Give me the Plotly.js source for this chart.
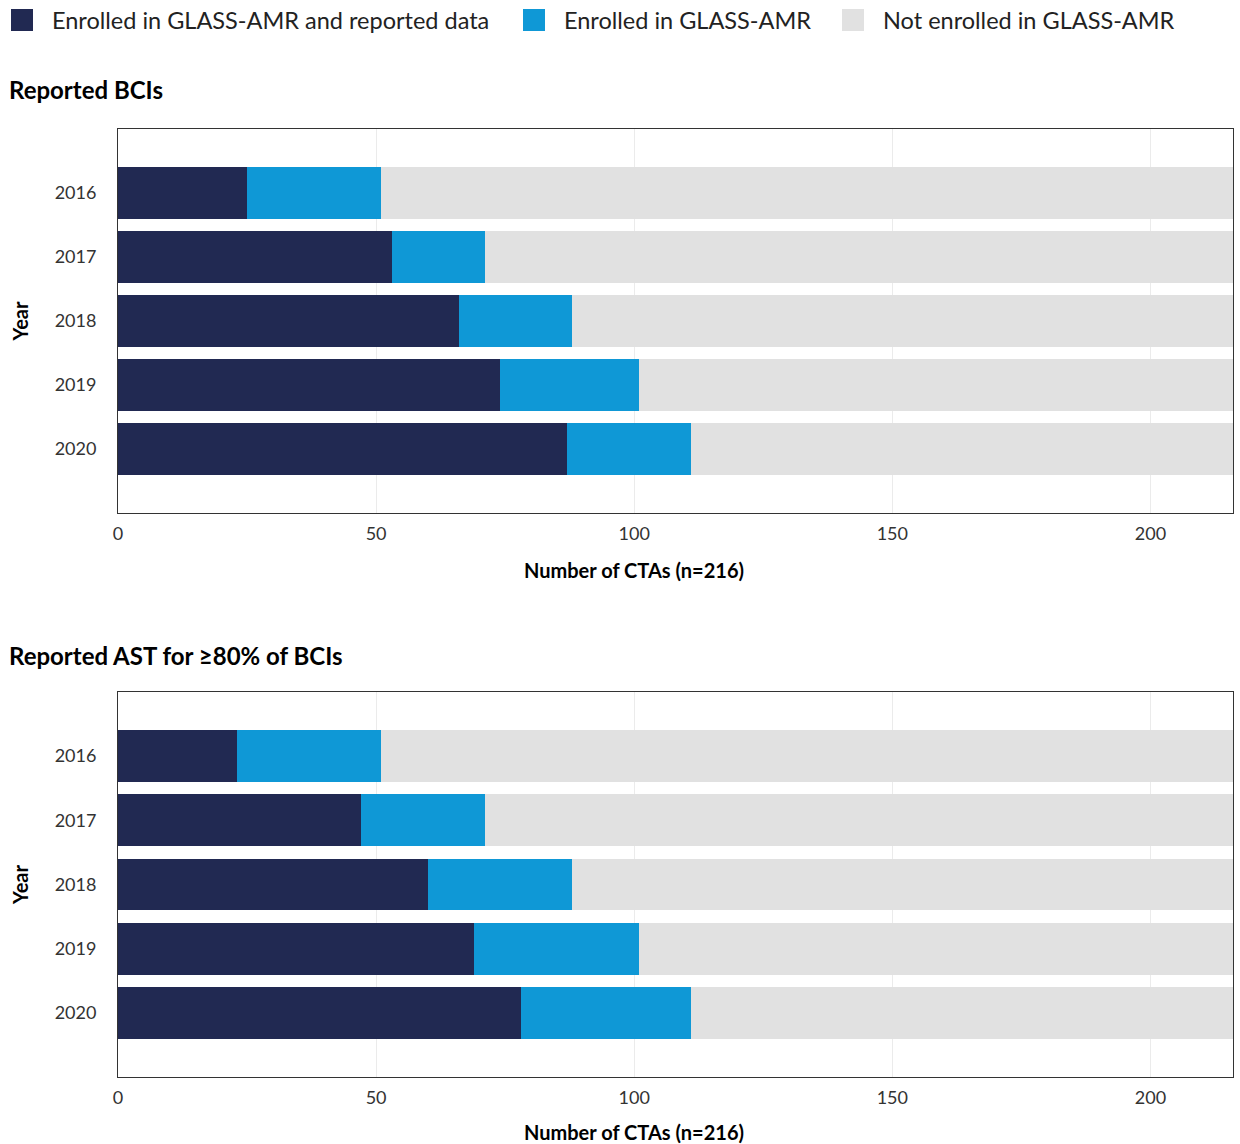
<!DOCTYPE html>
<html>
<head>
<meta charset="utf-8">
<script src="https://cdn.plot.ly/plotly-3.0.1.min.js"></script>
<style>html,body{margin:0;padding:0;background:#fff;}#chart{width:1240px;height:1144px;}</style>
</head>
<body>
<div id="chart"></div>
<script>
const years = ['2016', '2017', '2018', '2019', '2020'];
const seriesNames = ['Enrolled in GLASS-AMR and reported data', 'Enrolled in GLASS-AMR', 'Not enrolled in GLASS-AMR'];
const panelTitles = ['Reported BCIs', 'Reported AST for ≥80% of BCIs'];
const xTitle = 'Number of CTAs (n=216)';
const yTitle = 'Year';
const totalCTAs = 216;
// Panel 1: Reported BCIs
const bciReported = [25, 53, 66, 74, 87];
const bciEnrolled = [26, 18, 22, 27, 24];
const bciNotEnrolled = [165, 145, 128, 115, 105];
// Panel 2: Reported AST for >=80% of BCIs
const astReported = [23, 47, 60, 69, 78];
const astEnrolled = [28, 24, 28, 32, 33];
const astNotEnrolled = [165, 145, 128, 115, 105];

const colors = ['#212952', '#0f98d6', '#e1e1e1'];
const FONT = 'Lato, "Noto Sans", sans-serif';

const panels = [
  [bciReported, bciEnrolled, bciNotEnrolled],
  [astReported, astEnrolled, astNotEnrolled]
];

const traces = [];
panels.forEach((p, pi) => {
  p.forEach((vals, si) => {
    traces.push({
      type: 'bar', orientation: 'h',
      x: vals, y: years,
      name: seriesNames[si],
      marker: {color: colors[si], line: {width: 0}},
      xaxis: pi === 0 ? 'x' : 'x2',
      yaxis: pi === 0 ? 'y' : 'y2',
      showlegend: false,
      hoverinfo: 'x+y+name'
    });
  });
});

const W = 1115; // plot width in px
const H = 1144;
const px = v => (v - 118) / W;
const py = v => 1 - v / H;

function xax(domainAnchor) {
  return {
    range: [0, totalCTAs], anchor: domainAnchor,
    showgrid: true, gridcolor: '#ebebeb', gridwidth: 1,
    zeroline: false,
    showline: true, linecolor: '#333', linewidth: 1, mirror: true,
    tickvals: [0, 50, 100, 150, 200],
    ticks: '', ticklabelstandoff: 4,
    tickfont: {family: FONT, size: 18, color: '#333'},
    fixedrange: true
  };
}
function yax(domain, xa) {
  return {
    type: 'category', range: [5, -1], domain: domain, anchor: xa,
    showgrid: false, zeroline: false,
    showline: true, linecolor: '#333', linewidth: 1, mirror: true,
    ticks: '', ticklabelstandoff: 17,
    tickfont: {family: FONT, size: 18, color: '#333'},
    title: {text: yTitle, font: {family: FONT, size: 20, color: '#000', weight: 'bold'}, standoff: 20},
    fixedrange: true
  };
}

const shapes = [];
const annotations = [];
const legendX = [11, 523, 842];
seriesNames.forEach((n, i) => {
  shapes.push({type: 'rect', xref: 'paper', yref: 'paper',
    x0: px(legendX[i]), x1: px(legendX[i] + 22), y0: py(31), y1: py(9),
    fillcolor: colors[i], line: {width: 0}});
  annotations.push({xref: 'paper', yref: 'paper', x: px(legendX[i] + 39), y: py(20),
    xanchor: 'left', yanchor: 'middle', showarrow: false, text: n,
    font: {family: FONT, size: 23.5, color: '#222'}});
});
[90, 655].forEach((yy, i) => {
  annotations.push({xref: 'paper', yref: 'paper', x: px(7), y: py(yy), xanchor: 'left', yanchor: 'middle',
    showarrow: false, text: '<b>' + panelTitles[i] + '</b>', font: {family: FONT, size: 24, color: '#000', weight: 900}});
});
[570, 1132].forEach(yy => {
  annotations.push({xref: 'paper', yref: 'paper', x: px(634), y: py(yy), xanchor: 'center', yanchor: 'middle',
    showarrow: false, text: '<b>' + xTitle + '</b>', font: {family: FONT, size: 20, color: '#000'}});
});

const layout = {
  width: 1240, height: 1144,
  margin: {l: 118, r: 7, t: 0, b: 0, autoexpand: false},
  paper_bgcolor: '#fff', plot_bgcolor: '#fff',
  barmode: 'stack', bargap: 0.19,
  showlegend: false,
  font: {family: FONT, color: '#333'},
  xaxis: xax('y'),
  yaxis: yax([py(513), py(129)], 'x'),
  xaxis2: xax('y2'),
  yaxis2: yax([py(1077), py(692)], 'x2'),
  shapes: shapes,
  annotations: annotations
};

Plotly.newPlot('chart', traces, layout, {displayModeBar: false, staticPlot: true});
</script>
</body>
</html>
